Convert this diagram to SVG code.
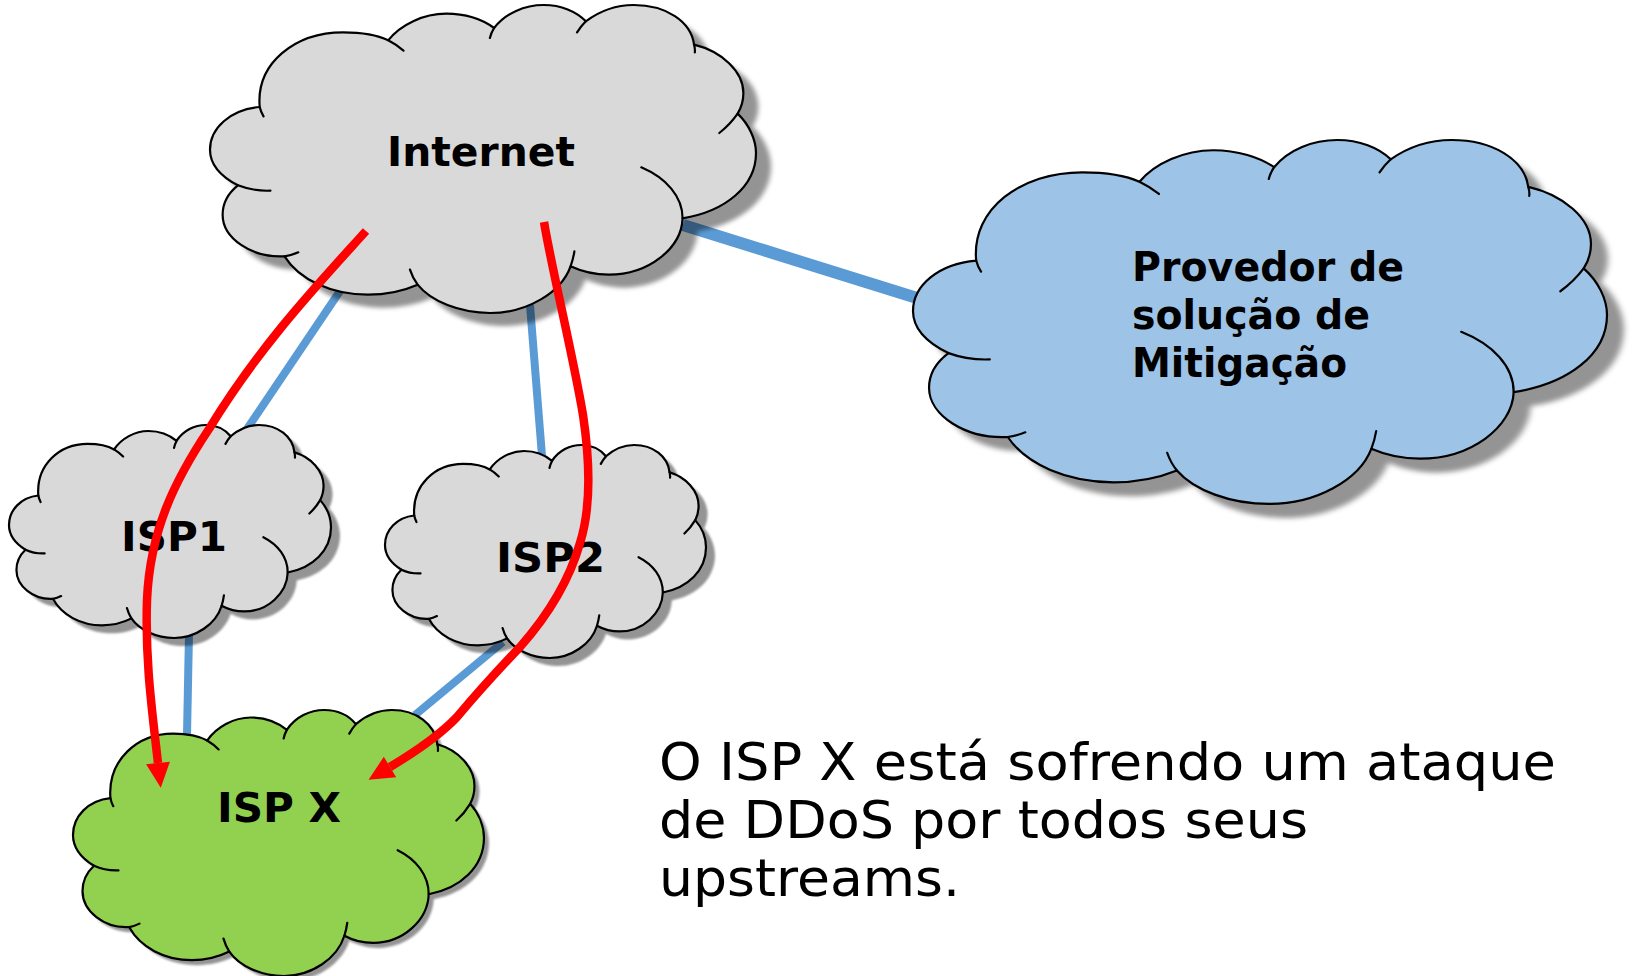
<svg xmlns="http://www.w3.org/2000/svg" xmlns:xlink="http://www.w3.org/1999/xlink" width="1640" height="976" viewBox="0 0 1640 976">
<style>
.outline{stroke:#000;stroke-width:2.2;stroke-linejoin:round}
.stub{fill:none;stroke:#000;stroke-width:2.2;stroke-linecap:round}
.shadow{fill:#000;fill-opacity:.42;stroke:none}
.big{filter:url(#blur)}
.small{filter:url(#blur2)}
.link{stroke:#5B9BD5;fill:none}
.attack{stroke:#FF0000;stroke-width:8.5;fill:none;marker-end:url(#head)}
text{font-family:"DejaVu Sans",Verdana,sans-serif;fill:#000}
.label{font-weight:700;font-size:41px}
.note{font-size:52px}
</style>
<defs>
<filter id="blur" x="-10%" y="-10%" width="120%" height="120%"><feGaussianBlur stdDeviation="6.5"/></filter>
<filter id="blur2" x="-10%" y="-10%" width="120%" height="120%"><feGaussianBlur stdDeviation="4"/></filter>
<marker id="head" markerUnits="userSpaceOnUse" markerWidth="26" markerHeight="26" refX="0" refY="12" orient="auto" overflow="visible"><path d="M0 0L25 12L0 24z" fill="#FF0000"/></marker>
<path id="cloud" vector-effect="non-scaling-stroke" d="M182 322C172 190 275 98 400 98C445 98 490 106 518 122C550 75 610 42 670 42C720 42 765 60 795 85C825 40 875 16 925 16C970 16 1010 35 1035 65C1070 35 1115 16 1160 16C1245 16 1310 65 1318 135C1390 155 1447 215 1447 280C1447 303 1442 323 1432 342C1462 375 1480 420 1480 460C1480 560 1400 635 1288 656C1285 745 1200 825 1095 825C1060 825 1025 816 995 800C970 880 880 940 785 940C705 940 630 905 595 855C555 875 510 885 465 885C370 885 285 840 247 770C160 775 85 715 85 645C85 610 100 580 125 557C80 530 52 495 52 450C52 385 105 330 182 322Z"/>
<path id="stubs" vector-effect="non-scaling-stroke" d="M182 322Q185 337 192 350M518 122Q540 135 558 153M795 85Q787 100 784 115M1035 65Q1022 80 1012 98M1318 135Q1321 147 1320 158M1432 342Q1412 375 1384 400M1288 656C1288 590 1245 535 1180 503M995 800Q1002 778 1005 755M595 855Q582 835 575 810M247 770Q265 767 283 758M125 557Q165 575 210 573"/>
</defs>
<rect width="1640" height="976" fill="#fff"/>
<g id="links">
<path class="link" stroke-width="12" d="M683 225L917 298"/>
<path class="link" stroke-width="8" d="M340 291L247 429"/>
<path class="link" stroke-width="8" d="M530 305L542 456"/>
<path class="link" stroke-width="8" d="M189 633L187 735"/>
<path class="link" stroke-width="8" d="M503 642L415 715"/>
</g>
<g id="node-internet">
<use xlink:href="#cloud" class="shadow big" transform="translate(205.12 12.67) scale(.38235 .33333)"/>
<g transform="translate(190.12 -.33) scale(.38235 .33333)"><use xlink:href="#cloud" class="outline" fill="#D9D9D9"/><use xlink:href="#stubs" class="stub"/></g>
<text class="label" x="387" y="166" textLength="188" lengthAdjust="spacingAndGlyphs">Internet</text>
</g>
<g id="node-provedor">
<use xlink:href="#cloud" class="shadow big" transform="translate(904.73 147.7) scale(.486 .3939)"/>
<g transform="translate(887.73 133.7) scale(.486 .3939)"><use xlink:href="#cloud" class="outline" fill="#9DC3E6"/><use xlink:href="#stubs" class="stub"/></g>
<text class="label" x="1132" y="281" textLength="272" lengthAdjust="spacingAndGlyphs">Provedor de</text>
<text class="label" x="1132" y="329" textLength="238" lengthAdjust="spacingAndGlyphs">solução de</text>
<text class="label" x="1132" y="377" textLength="215" lengthAdjust="spacingAndGlyphs">Mitigação</text>
</g>
<g id="node-isp1">
<use xlink:href="#cloud" class="shadow small" transform="translate(6.27 429.31) scale(.2255 .2305)"/>
<g transform="translate(-2.73 421.31) scale(.2255 .2305)"><use xlink:href="#cloud" class="outline" fill="#D9D9D9"/><use xlink:href="#stubs" class="stub"/></g>
<text class="label" x="121" y="551" textLength="106" lengthAdjust="spacingAndGlyphs">ISP1</text>
</g>
<g id="node-isp2">
<use xlink:href="#cloud" class="shadow small" transform="translate(382.31 449.31) scale(.2248 .2305)"/>
<g transform="translate(373.31 441.31) scale(.2248 .2305)"><use xlink:href="#cloud" class="outline" fill="#D9D9D9"/><use xlink:href="#stubs" class="stub"/></g>
<text class="label" x="496" y="572" textLength="109" lengthAdjust="spacingAndGlyphs">ISP2</text>
</g>
<g id="node-ispx">
<use xlink:href="#cloud" class="shadow small" transform="translate(63.03 710.39) scale(.2878 .2879)"/>
<g transform="translate(58.03 705.39) scale(.2878 .2879)"><use xlink:href="#cloud" class="outline" fill="#92D050"/><use xlink:href="#stubs" class="stub"/></g>
<text class="label" x="217" y="822" textLength="124" lengthAdjust="spacingAndGlyphs">ISP X</text>
</g>
<g id="attacks">
<path class="attack" d="M366 231C320 282 260 345 209 429C175 480 150 530 147 600C145 660 152 710 158 763"/>
<path class="attack" d="M544 222C552 270 574 360 583 415C589 455 592 505 580 543C570 578 550 613 520 647C500 668 478 692 457 717C440 735 415 752 390 767"/>
</g>
<g id="caption">
<text class="note" x="659" y="780" textLength="897" lengthAdjust="spacingAndGlyphs">O ISP X está sofrendo um ataque</text>
<text class="note" x="659" y="838" textLength="649" lengthAdjust="spacingAndGlyphs">de DDoS por todos seus</text>
<text class="note" x="659" y="896" textLength="301" lengthAdjust="spacingAndGlyphs">upstreams.</text>
</g>
</svg>
